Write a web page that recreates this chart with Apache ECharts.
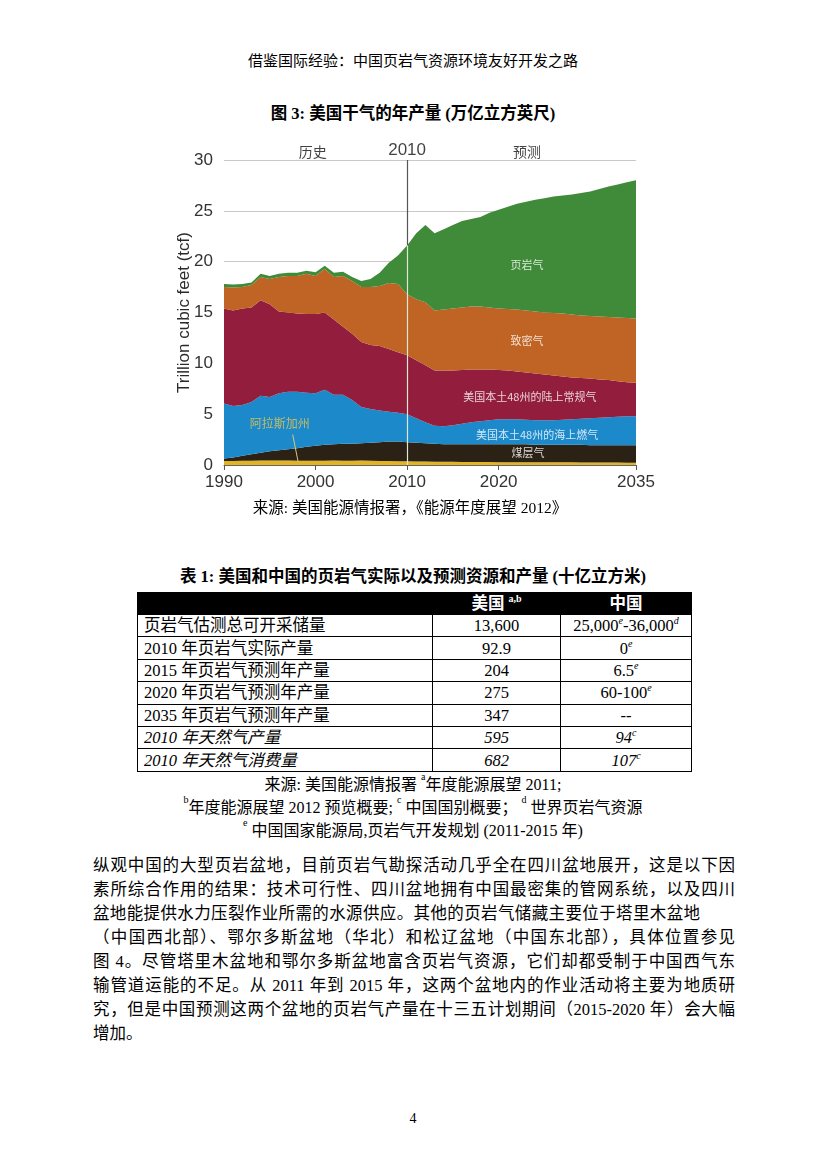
<!DOCTYPE html>
<html>
<head>
<meta charset="utf-8">
<script src="https://cdn.jsdelivr.net/npm/echarts@6/dist/echarts.min.js"></script>
<style>
  html, body { margin:0; padding:0; background:#fff; }
  body { width:826px; height:1169px; position:relative; overflow:hidden;
         font-family:"Liberation Serif","Noto Sans CJK SC",serif; color:#000; }
  .abs { position:absolute; }
  .center { left:0; width:826px; text-align:center; }
  #chart { position:absolute; left:150px; top:130px; width:520px; height:380px; }
  table { position:absolute; left:137px; top:592px; width:554px; border-collapse:collapse;
          font-size:16.5px; table-layout:fixed; }
  td { border:1px solid #000; padding:0; height:21.4px; line-height:21px; white-space:nowrap; }
  td.l { padding-left:6px; }
  td.c { text-align:center; }
  tr.hd td { background:#000; color:#fff; font-weight:bold; height:21px; border-color:#000; }
  tr.it td { font-style:italic; }
  sup { font-size:10px; vertical-align:top; line-height:10px; position:relative; top:1px; }
  .para { position:absolute; left:93px; width:642px; font-size:16.5px; line-height:24px;
          text-align:justify; text-align-last:justify; white-space:nowrap; }
</style>
</head>
<body>
<div class="abs center" style="top:49px;font-size:15px;">借鉴国际经验：中国页岩气资源环境友好开发之路</div>
<div class="abs center" style="top:100px;font-size:16.5px;font-weight:bold;">图 3: 美国干气的年产量 (万亿立方英尺)</div>
<div id="chart"></div>
<div class="abs" style="left:0;width:820px;text-align:center;top:495px;font-size:15.5px;">来源: 美国能源情报署，《能源年度展望 2012》</div>

<div class="abs center" style="top:563px;font-size:16.5px;font-weight:bold;">表 1: 美国和中国的页岩气实际以及预测资源和产量 (十亿立方米)</div>
<table>
  <colgroup><col style="width:295px"><col style="width:128px"><col style="width:131px"></colgroup>
  <tr class="hd"><td></td><td class="c">美国 <sup>a,b</sup></td><td class="c">中国</td></tr>
  <tr><td class="l">页岩气估测总可开采储量</td><td class="c">13,600</td><td class="c">25,000<sup><i>e</i></sup>-36,000<sup><i>d</i></sup></td></tr>
  <tr><td class="l">2010 年页岩气实际产量</td><td class="c">92.9</td><td class="c">0<sup><i>e</i></sup></td></tr>
  <tr><td class="l">2015 年页岩气预测年产量</td><td class="c">204</td><td class="c">6.5<sup><i>e</i></sup></td></tr>
  <tr><td class="l">2020 年页岩气预测年产量</td><td class="c">275</td><td class="c">60-100<sup><i>e</i></sup></td></tr>
  <tr><td class="l">2035 年页岩气预测年产量</td><td class="c">347</td><td class="c">--</td></tr>
  <tr class="it"><td class="l">2010 年天然气产量</td><td class="c">595</td><td class="c">94<sup>c</sup></td></tr>
  <tr class="it"><td class="l">2010 年天然气消费量</td><td class="c">682</td><td class="c">107<sup>c</sup></td></tr>
</table>
<div class="abs center" style="top:771px;font-size:16px;">来源: 美国能源情报署 <sup>a</sup>年度能源展望 2011;</div>
<div class="abs center" style="top:794px;font-size:16px;"><sup>b</sup>年度能源展望 2012 预览概要; <sup>c</sup> 中国国别概要； <sup>d</sup> 世界页岩气资源</div>
<div class="abs center" style="top:817px;font-size:16px;"><sup>e</sup> 中国国家能源局,页岩气开发规划 (2011-2015 年)</div>

<div class="para" style="top:854px;">纵观中国的大型页岩盆地，目前页岩气勘探活动几乎全在四川盆地展开，这是以下因</div>
<div class="para" style="top:878px;">素所综合作用的结果：技术可行性、四川盆地拥有中国最密集的管网系统，以及四川</div>
<div class="para" style="top:902px;width:607px;">盆地能提供水力压裂作业所需的水源供应。其他的页岩气储藏主要位于塔里木盆地</div>
<div class="para" style="top:926px;">（中国西北部）、鄂尔多斯盆地（华北）和松辽盆地（中国东北部），具体位置参见</div>
<div class="para" style="top:950px;">图 4。尽管塔里木盆地和鄂尔多斯盆地富含页岩气资源，它们却都受制于中国西气东</div>
<div class="para" style="top:974px;">输管道运能的不足。从 2011 年到 2015 年，这两个盆地内的作业活动将主要为地质研</div>
<div class="para" style="top:998px;">究，但是中国预测这两个盆地的页岩气产量在十三五计划期间（2015-2020 年）会大幅</div>
<div class="para" style="top:1022px;text-align-last:left;">增加。</div>

<div class="abs center" style="top:1111px;font-size:14px;">4</div>

<script>
// ---- data (tcf, per year) ----
var years = ['1990','1991','1992','1993','1994','1995','1996','1997','1998','1999','2000','2001','2002','2003','2004',
             '2005','2006','2007','2008','2009','2010','2011','2012','2013','2014','2015','2016','2017','2018','2019',
             '2020','2021','2022','2023','2024','2025','2026','2027','2028','2029','2030','2031','2032','2033','2034','2035'];
var alaska   = [0.40,0.40,0.42,0.42,0.45,0.45,0.45,0.45,0.42,0.42,0.42,0.42,0.45,0.43,0.43,0.45,0.42,0.40,0.39,0.38,0.36,
                0.35,0.34,0.33,0.32,0.31,0.30,0.30,0.29,0.29,0.28,0.28,0.28,0.27,0.27,0.27,0.26,0.26,0.26,0.25,0.25,
                0.25,0.24,0.24,0.23,0.23];
var coalbed  = [0.25,0.35,0.48,0.63,0.75,0.90,1.00,1.10,1.23,1.38,1.48,1.56,1.60,1.65,1.67,1.70,1.78,1.85,1.91,1.92,1.89,
                1.85,1.81,1.77,1.73,1.74,1.75,1.75,1.76,1.76,1.77,1.77,1.77,1.78,1.73,1.73,1.74,1.74,1.74,1.73,1.70,
                1.70,1.71,1.71,1.72,1.72];
var offshore = [5.40,5.05,5.00,5.15,5.60,5.35,5.60,5.65,5.55,5.30,5.15,5.42,4.85,4.82,4.30,3.55,3.30,3.10,2.95,2.85,2.75,
                2.40,2.05,1.75,1.75,1.85,2.00,2.15,2.25,2.35,2.45,2.45,2.45,2.40,2.40,2.40,2.40,2.45,2.50,2.57,2.65,
                2.70,2.75,2.80,2.85,2.85];
var onshore  = [9.35,9.40,9.50,9.30,9.40,9.10,8.05,7.80,7.70,7.75,7.80,7.60,7.40,6.70,6.50,6.40,6.30,6.35,6.15,5.95,5.80,
                5.70,5.60,5.45,5.50,5.40,5.30,5.20,5.10,5.00,4.85,4.80,4.70,4.65,4.60,4.50,4.40,4.25,4.10,4.00,3.90,
                3.75,3.65,3.50,3.35,3.30];
var tight    = [2.10,2.25,2.10,2.20,2.30,2.50,3.40,3.60,3.70,3.95,3.75,4.30,4.20,5.00,5.20,5.40,5.70,5.90,6.50,6.70,6.00,
                6.00,6.20,5.90,6.00,6.10,6.15,6.20,6.20,6.10,6.05,6.05,6.10,6.10,6.10,6.10,6.15,6.20,6.20,6.15,6.15,
                6.20,6.20,6.25,6.30,6.30];
var shale    = [0.30,0.30,0.30,0.25,0.30,0.30,0.30,0.30,0.30,0.30,0.35,0.30,0.40,0.40,0.40,0.60,0.80,1.30,2.00,2.80,4.80,
                6.50,7.60,7.60,7.90,8.20,8.50,8.60,8.80,9.30,9.70,10.05,10.40,10.70,11.00,11.25,11.45,11.60,11.80,12.05,12.25,
                12.55,12.85,13.10,13.35,13.60];
var xTickLabels = ['1990', '2000', '2010', '2020', '2035'];
var divideYear = 2010;
var divideLevels = [30, 21.6, 0];     // top of axis, total at 2010, baseline
// period headings above plot: [text, year]
var headings = [['历史', 1999.7], ['2010', 2010], ['预测', 2023.1]];
// in-area labels: [text, year, value]
var areaLabels = [['页岩气', 2023.1, 19.7], ['致密气', 2023.1, 12.2], ['美国本土48州的陆上常规气', 2023.4, 6.7],
                  ['美国本土48州的海上燃气', 2024.2, 2.95], ['煤层气', 2023.2, 1.18]];
var alaskaLabel = ['阿拉斯加州', 1996.1, 4.13];
var alaskaLeader = [[1997.5, 3.0], [1998.1, 0.3]];

var names  = ['阿拉斯加州','煤层气','美国本土48州的海上燃气','美国本土48州的陆上常规气','致密气','页岩气'];
var layers = [alaska, coalbed, offshore, onshore, tight, shale];
var colors = ['#e3b421','#2b2215','#1c89cb','#921d3c','#bf6424','#3f8b39'];

var series = layers.map(function(arr, i){
  return { name:names[i], type:'line', stack:'gas', data:arr, symbol:'none', smooth:false,
           xAxisIndex:0, yAxisIndex:0,
           lineStyle:{width:0}, areaStyle:{color:colors[i], opacity:1}, itemStyle:{color:colors[i]}, z:2 };
});

// annotation layer on a hidden value x-axis spanning the same years
series.push({ type:'line', xAxisIndex:1, yAxisIndex:0, data:[], z:8, silent:true,
  markLine:{ silent:true, symbol:'none', animation:false, label:{show:false},
    data:[
      [{coord:[divideYear, divideLevels[0]], lineStyle:{color:'#555', width:1.2, type:'solid'}},
       {coord:[divideYear, divideLevels[1]]}],
      [{coord:[divideYear, divideLevels[1]], lineStyle:{color:'#dfe8d3', width:1.2, type:'solid'}},
       {coord:[divideYear, divideLevels[2]]}],
      [{coord:alaskaLeader[0], lineStyle:{color:'#d9c77a', width:1, type:'solid'}},
       {coord:alaskaLeader[1]}]
    ]}
});
series.push({ type:'scatter', xAxisIndex:1, yAxisIndex:0, symbolSize:0, z:10, silent:true,
  data: headings.map(function(h){
    return { value:[h[1], 30], label:{ show:true, position:'top', distance:1, formatter:h[0],
      color:'#111', fontSize: h[0] === '2010' ? 17 : 14,
      fontFamily: h[0] === '2010' ? 'Liberation Sans, Arial' : 'Noto Sans CJK SC' } };
  })
});
series.push({ type:'scatter', xAxisIndex:1, yAxisIndex:0, symbolSize:0, z:10, silent:true,
  data: areaLabels.map(function(a){
    return { value:[a[1], a[2]], label:{ show:true, position:'inside', formatter:a[0],
      color:'#fff', fontSize:11, fontFamily:'Noto Sans CJK SC' } };
  }).concat([{ value:[alaskaLabel[1], alaskaLabel[2]], label:{ show:true, position:'inside',
      formatter:alaskaLabel[0], color:'#ecc94a', fontSize:12, fontFamily:'Noto Sans CJK SC' } }])
});

function isTick(idx, val){ return xTickLabels.indexOf(String(val)) >= 0; }

var chart = echarts.init(document.getElementById('chart'), null, {renderer:'canvas'});
chart.setOption({
  animation:false,
  grid:{ left:74, right:34, top:30, bottom:45, containLabel:false, outerBoundsMode:'none' },
  xAxis:[{ type:'category', data:years, boundaryGap:false,
    axisLine:{ show:true, onZero:false, lineStyle:{color:'#666', width:1} },
    axisTick:{ show:true, interval:isTick, length:5, lineStyle:{color:'#555'} },
    axisLabel:{ interval:isTick, color:'#333', fontSize:17, margin:9, fontFamily:'Liberation Sans, Arial' },
    splitLine:{ show:false } },
   { type:'value', min:1990, max:2035, show:false }],
  yAxis:{ type:'value', min:0, max:30, interval:5,
    name:'Trillion cubic feet (tcf)', nameLocation:'middle', nameGap:31, nameRotate:90,
    nameMoveOverlap:false,
    nameTextStyle:{ color:'#2a2a2a', fontSize:17, fontWeight:'normal', fontFamily:'Liberation Sans, Arial' },
    axisLine:{show:false}, axisTick:{show:false},
    axisLabel:{ color:'#333', fontSize:17, margin:11, fontFamily:'Liberation Sans, Arial' },
    splitLine:{ show:true, lineStyle:{ color:'#c9c9c9', width:1 } } },
  series: series
});
</script>
</body>
</html>
